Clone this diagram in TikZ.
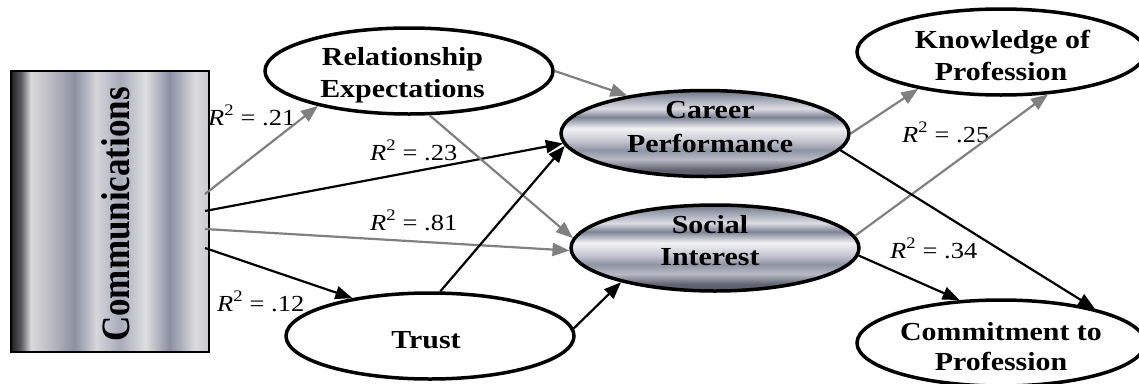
\documentclass[tikz,border=0pt]{standalone}
\usepackage{fontspec}
\setmainfont{Liberation Serif}
\newfontfamily\widefont[FakeStretch=1.15]{Liberation Serif}
\usetikzlibrary{shapes.geometric,arrows.meta}

\definecolor{arrowgray}{RGB}{128,128,128}

% brushed-metal fill for the two mediating constructs (top to bottom bands)
\pgfdeclareverticalshading{metalv}{100bp}{%
  rgb(0bp)=(0.33,0.35,0.40);
  rgb(25bp)=(0.33,0.35,0.40);
  rgb(29bp)=(0.38,0.39,0.44);
  rgb(35bp)=(0.72,0.73,0.77);
  rgb(40.5bp)=(0.56,0.58,0.64);
  rgb(46bp)=(0.78,0.78,0.82);
  rgb(53bp)=(0.95,0.95,0.96);
  rgb(59.5bp)=(0.49,0.51,0.58);
  rgb(64.5bp)=(0.86,0.86,0.89);
  rgb(70.5bp)=(0.62,0.64,0.69);
  rgb(75bp)=(0.43,0.45,0.52);
  rgb(100bp)=(0.43,0.45,0.52)}

% vertical stripes for the source box (left to right)
\pgfdeclarehorizontalshading{metalh}{100bp}{%
  rgb(0bp)=(0.12,0.12,0.12);
  rgb(25bp)=(0.12,0.12,0.12);
  rgb(27.5bp)=(0.35,0.35,0.38);
  rgb(30bp)=(0.85,0.85,0.86);
  rgb(35bp)=(0.73,0.73,0.77);
  rgb(41bp)=(0.55,0.57,0.63);
  rgb(46.5bp)=(0.84,0.84,0.86);
  rgb(52.5bp)=(0.66,0.67,0.73);
  rgb(59bp)=(0.87,0.87,0.88);
  rgb(65bp)=(0.54,0.56,0.63);
  rgb(71.5bp)=(0.86,0.86,0.87);
  rgb(75bp)=(0.79,0.79,0.81);
  rgb(100bp)=(0.79,0.79,0.81)}

\begin{document}
\begin{tikzpicture}[x=1pt,y=-1pt,
  ovalbase/.style={ellipse, draw, line width=3.5pt, minimum width=288pt,
    minimum height=86pt, inner sep=0pt},
  plainoval/.style={ovalbase, fill=white},
  metaloval/.style={ovalbase, shading=metalv},
  nm/.style={font=\widefont\bfseries\fontsize{26}{30}\selectfont,
    inner sep=0pt, anchor=base},
  rsq/.style={font=\widefont\fontsize{23}{26}\selectfont,
    inner sep=0pt, anchor=base west},
  blk/.style={line width=2.2pt, -{Triangle[length=17pt,width=13pt]}},
  gry/.style={blk, draw=arrowgray}]

\useasboundingbox (0,0) rectangle (1139,383);

% source box
\node[draw, line width=2.6pt, minimum width=198pt, minimum height=281pt,
  inner sep=0pt, shading=metalh] (comm) at (110,211.5) {};
\node[rotate=90, inner sep=0pt,
  font=\bfseries\fontsize{35}{40}\selectfont] (commtext) at (116,214.5)
  {\scalebox{1}[1.15]{Communications}};

% constructs
\node[plainoval]  (rel)  at (409,71)    {};
\node[metaloval]  (car)  at (705,133.5) {};
\node[metaloval]  (soc)  at (715,248)   {};
\node[plainoval]  (tru)  at (430,336)   {};
\node[plainoval]  (kno)  at (1001,52)   {};
\node[plainoval]  (com)  at (1001,343)  {};

\node[nm] (rel1) at (402.5,65)  {Relationship};
\node[nm] (rel2) at (402.5,97)  {Expectations};
\node[nm] (car1) at (710,118)   {Career};
\node[nm] (car2) at (710,152)   {Performance};
\node[nm] (soc1) at (710,233)   {Social};
\node[nm] (soc2) at (710,265)   {Interest};
\node[nm] (tru1) at (426,348)   {Trust};
\node[nm] (kno1) at (1002.5,48) {Knowledge of};
\node[nm] (kno2) at (1001,80)   {Profession};
\node[nm] (com1) at (1001,340)  {Commitment to};
\node[nm] (com2) at (1001,370)  {Profession};

% explained variance
\node[rsq] (r21) at (208,125) {\textit{R}\textsuperscript{2} = .21};
\node[rsq] (r23) at (370,160) {\textit{R}\textsuperscript{2} = .23};
\node[rsq] (r81) at (370,230) {\textit{R}\textsuperscript{2} = .81};
\node[rsq] (r12) at (217,311) {\textit{R}\textsuperscript{2} = .12};
\node[rsq] (r25) at (902,142) {\textit{R}\textsuperscript{2} = .25};
\node[rsq] (r34) at (890,258) {\textit{R}\textsuperscript{2} = .34};

% exit points on the source box
\coordinate (c1) at (205,194);
\coordinate (c2) at (205,211);
\coordinate (c3) at (205,229);
\coordinate (c4) at (205,248);

% paths
\draw[gry] (c1) -- (rel.201);
\draw[blk] (c2) -- (car.184);
\draw[gry] (c3) -- (soc.181);
\draw[blk] (c4) -- (tru.154);

\draw[gry] (rel.east) -- (car.154);
\draw[gry] (rel.295) -- (soc.176);
\draw[blk] (tru.77) -- (car.185);
\draw[blk] (tru.3) -- (soc.200);

\draw[gry] (car.east) -- (kno.204);
\draw[gry] (soc.5) -- (kno.318);
\draw[blk] (car.353) -- (com.20);
\draw[blk] (soc.357) -- (com.134);
\end{tikzpicture}
\end{document}
